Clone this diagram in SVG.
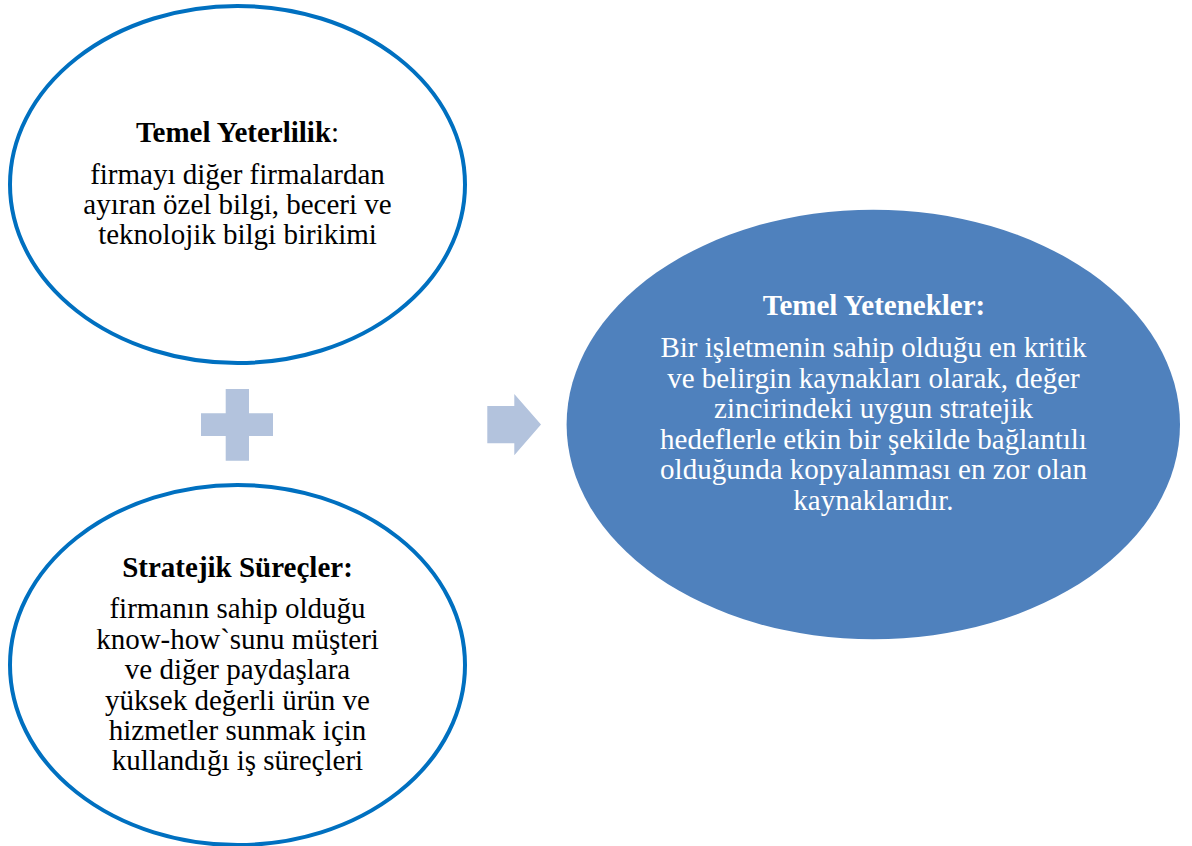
<svg xmlns="http://www.w3.org/2000/svg" width="1192" height="846" viewBox="0 0 1192 846">
  <style>
    .ring { fill: #ffffff; stroke: #0070C0; stroke-width: 4; }
    .core { fill: #4F81BD; }
    .sym { fill: #B3C3DD; }
    text { font-family: "Liberation Serif", "Times New Roman", serif; font-size: 29px; text-anchor: middle; }
    .dark { fill: #000000; }
    .light { fill: #ffffff; }
    .b { font-weight: bold; }
  </style>
  <rect width="1192" height="846" fill="#ffffff"/>

  <g id="temel-yeterlilik">
    <ellipse class="ring" cx="237.5" cy="184.5" rx="227.5" ry="178.5"/>
    <text class="dark" x="237.5" y="142"><tspan class="b">Temel Yeterlilik</tspan>:</text>
    <text class="dark" x="237.5" y="184">firmayı diğer firmalardan</text>
    <text class="dark" x="237.5" y="214">ayıran özel bilgi, beceri ve</text>
    <text class="dark" x="237.5" y="244">teknolojik bilgi birikimi</text>
  </g>

  <g id="stratejik-surecler">
    <ellipse class="ring" cx="237.5" cy="665" rx="227.5" ry="180"/>
    <text class="dark b" x="237.5" y="577">Stratejik Süreçler:</text>
    <text class="dark" x="237.5" y="618">firmanın sahip olduğu</text>
    <text class="dark" x="237.5" y="649">know-how`sunu müşteri</text>
    <text class="dark" x="237.5" y="679">ve diğer paydaşlara</text>
    <text class="dark" x="237.5" y="709.5">yüksek değerli ürün ve</text>
    <text class="dark" x="237.5" y="740">hizmetler sunmak için</text>
    <text class="dark" x="237.5" y="770">kullandığı iş süreçleri</text>
  </g>

  <g id="connectors">
    <!-- plus sign between the two inputs -->
    <path class="sym" d="M225.7,389 H249 V413.3 H273 V436 H249 V460.7 H225.7 V436 H201 V413.3 H225.7 Z"/>
    <!-- block arrow toward the result -->
    <path class="sym" d="M487.3,406 H514.3 V394 L541,424.5 L514.3,455.3 V443.3 H487.3 Z"/>
  </g>

  <g id="temel-yetenekler">
    <ellipse class="core" cx="873.3" cy="424.5" rx="306.7" ry="214.8"/>
    <text class="light b" x="874" y="315">Temel Yetenekler:</text>
    <text class="light" x="873.5" y="356.7">Bir işletmenin sahip olduğu en kritik</text>
    <text class="light" x="873.5" y="387.7">ve belirgin kaynakları olarak, değer</text>
    <text class="light" x="873.5" y="418">zincirindeki uygun stratejik</text>
    <text class="light" x="873.5" y="449">hedeflerle etkin bir şekilde bağlantılı</text>
    <text class="light" x="873.5" y="479">olduğunda kopyalanması en zor olan</text>
    <text class="light" x="873.5" y="510">kaynaklarıdır.</text>
  </g>
</svg>
